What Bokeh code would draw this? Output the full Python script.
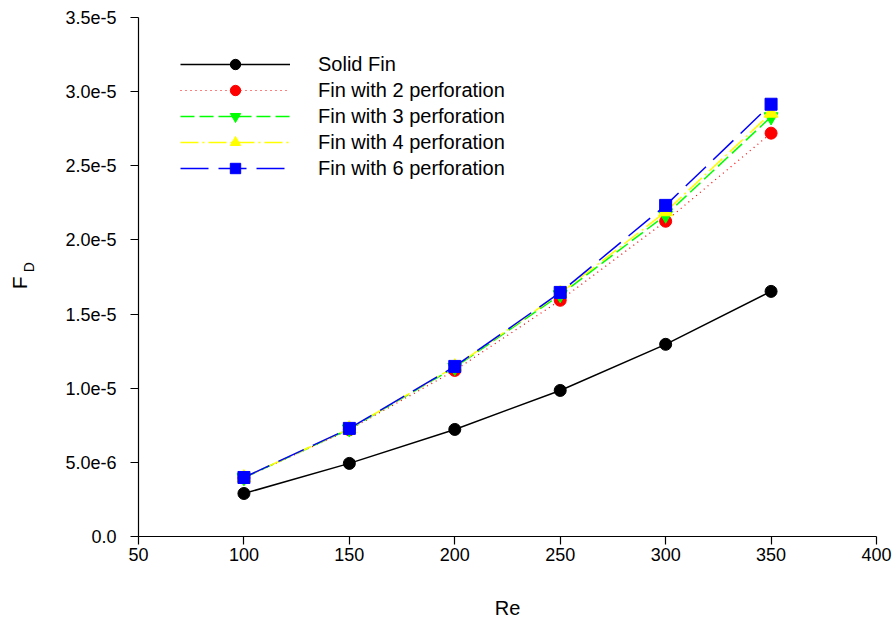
import math
from bokeh.plotting import figure
from bokeh.models import Range1d, FixedTicker, CustomJSTickFormatter, Legend, LinearAxis
from bokeh.embed import file_html
from bokeh.resources import INLINE

re_vals = [100, 150, 200, 250, 300, 350]
solid_fin = [2.90e-6, 4.93e-6, 7.22e-6, 9.85e-6, 1.296e-5, 1.653e-5]
fin_2 = [3.95e-6, 7.20e-6, 1.12e-5, 1.593e-5, 2.126e-5, 2.72e-5]
fin_3 = [3.96e-6, 7.25e-6, 1.14e-5, 1.63e-5, 2.167e-5, 2.83e-5]
fin_4 = [3.97e-6, 7.27e-6, 1.145e-5, 1.64e-5, 2.19e-5, 2.855e-5]
fin_6 = [3.98e-6, 7.29e-6, 1.147e-5, 1.646e-5, 2.233e-5, 2.915e-5]

x_ticks = [50, 100, 150, 200, 250, 300, 350, 400]
y_ticks = [0.0, 5e-6, 1e-5, 1.5e-5, 2e-5, 2.5e-5, 3e-5, 3.5e-5]
y_tick_labels = ["0.0", "5.0e-6", "1.0e-5", "1.5e-5", "2.0e-5", "2.5e-5", "3.0e-5", "3.5e-5"]

FONT = "Liberation Sans"
NB = "\u00a0"

p = figure(width=894, height=622, output_backend="svg", toolbar_location=None,
           x_range=Range1d(50, 400), y_range=Range1d(0, 3.5e-5))
p.min_border_left = 138
p.min_border_right = 18
p.min_border_top = 17
p.min_border_bottom = 86
p.outline_line_color = None
p.xgrid.visible = False
p.ygrid.visible = False
p.background_fill_color = "white"
p.border_fill_color = "white"

for ax in (p.xaxis[0], p.yaxis[0]):
    ax.axis_line_color = "black"
    ax.axis_line_width = 1.2
    ax.major_tick_line_color = "black"
    ax.major_tick_line_width = 1.2
    ax.major_tick_in = 0
    ax.major_tick_out = 8
    ax.minor_tick_line_color = None
    ax.major_label_text_font = FONT
    ax.major_label_text_font_size = "18px"
    ax.major_label_text_color = "black"

p.xaxis.ticker = FixedTicker(ticks=x_ticks)
p.xaxis.major_label_standoff = 3
p.xaxis.axis_label = "Re"
p.xaxis.axis_label_text_font = FONT
p.xaxis.axis_label_text_font_size = "20px"
p.xaxis.axis_label_text_font_style = "normal"
p.xaxis.axis_label_text_color = "black"
p.xaxis.axis_label_standoff = 33

p.yaxis.ticker = FixedTicker(ticks=y_ticks)
p.yaxis.formatter = CustomJSTickFormatter(args=dict(yvals=y_ticks, ylabs=y_tick_labels), code="""
    let best = 0; let bd = Infinity;
    for (let i = 0; i < yvals.length; i++) {
        const d = Math.abs(yvals[i] - tick);
        if (d < bd) { bd = d; best = i; }
    }
    return ylabs[best];
""")
p.yaxis.major_label_standoff = 14
# subscript "D" of the y label (on the main axis, closer to the frame)
p.yaxis.axis_label = NB * 5 + "D"
p.yaxis.axis_label_text_font = FONT
p.yaxis.axis_label_text_font_size = "14px"
p.yaxis.axis_label_text_font_style = "normal"
p.yaxis.axis_label_text_color = "black"
p.yaxis.axis_label_standoff = 25

# "F" of the y label on an extra, otherwise invisible, left axis
f_axis = LinearAxis(ticker=FixedTicker(ticks=[]), axis_line_color=None,
                    major_tick_line_color=None, minor_tick_line_color=None,
                    major_tick_out=0, major_tick_in=0, major_label_standoff=0,
                    axis_label="F" + NB * 2, axis_label_text_font=FONT,
                    axis_label_text_font_size="21px", axis_label_text_font_style="normal",
                    axis_label_text_color="black", axis_label_standoff=-12)
p.add_layout(f_axis, "left")

series = [
    ("Solid Fin", solid_fin, "black", "solid", 1.5, "circle"),
    ("Fin with 2 perforation", fin_2, "red", "1 4", 1.2, "circle"),
    ("Fin with 3 perforation", fin_3, "#00ff00", "14 5", 1.5, "inverted_triangle"),
    ("Fin with 4 perforation", fin_4, "#ffff00", "18 4 2 4", 1.5, "triangle"),
    ("Fin with 6 perforation", fin_6, "#0000ff", "28 10", 1.5, "square"),
]

items = []
for name, ys, color, dash, lw, marker in series:
    l = p.line(re_vals, ys, line_color=color, line_dash=dash, line_width=lw)
    size = 12 if marker in ("circle", "square") else 14
    m = p.scatter(re_vals, ys, marker=marker, size=size, fill_color=color, line_color=color)
    items.append((name, [l, m]))

legend = Legend(items=items, location=(42, 355), orientation="vertical")
legend.glyph_width = 110
legend.glyph_height = 26
legend.label_height = 20
legend.spacing = 0
legend.label_standoff = 28
legend.padding = 0
legend.margin = 0
legend.border_line_alpha = 0
legend.background_fill_alpha = 0
legend.label_text_font = FONT
legend.label_text_font_size = "20px"
legend.label_text_color = "black"
p.add_layout(legend, "center")

open("out.html", "w").write(file_html(p, INLINE))
